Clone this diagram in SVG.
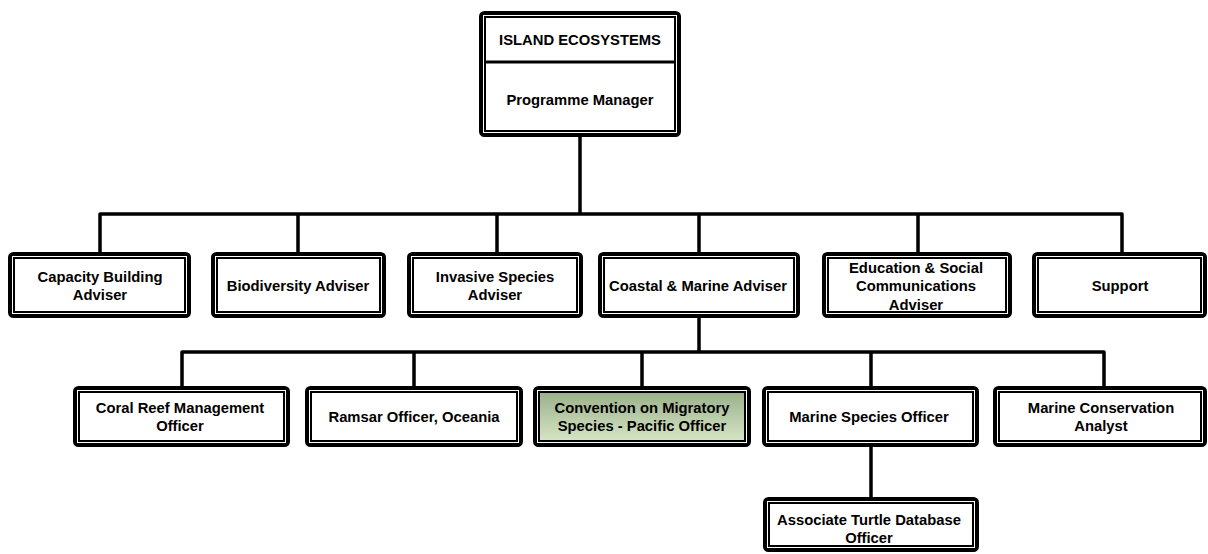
<svg xmlns="http://www.w3.org/2000/svg" width="1208" height="554" viewBox="0 0 1208 554">
<defs>
<linearGradient id="gcms" x1="0" y1="0" x2="0" y2="1">
<stop offset="0" stop-color="#98ad88"/>
<stop offset="1" stop-color="#d8e8c8"/>
</linearGradient>
</defs>
<style>
.fl{fill:#fff;stroke:none}
.bx{fill:none;stroke:#000;stroke-width:7;stroke-linejoin:round}
.in{fill:none;stroke:#fff;stroke-width:1}
.t{font-family:"Liberation Sans",Arial,sans-serif;font-weight:bold;font-size:14.8px;fill:#000;text-anchor:middle}
.c{fill:none;stroke:#000;stroke-width:3.5;stroke-linejoin:round}
</style>
<rect width="1208" height="554" fill="#fff"/>
<g id="connectors">
<path class="c" d="M580 137V214"/>
<path class="c" d="M100 252V214H1122V252"/>
<path class="c" d="M298 214V252M497 214V252M699 214V252M918 214V252"/>
<path class="c" d="M699 318V352"/>
<path class="c" d="M182 386V352H1104V386"/>
<path class="c" d="M414 352V386M642 352V386M871 352V386"/>
<path class="c" d="M871 447V497"/>
</g>
<g id="programme-manager">
<rect class="fl" x="482.5" y="14.5" width="195" height="119"/>
<text class="t" x="580" y="45">ISLAND ECOSYSTEMS</text>
<line x1="483" y1="62" x2="677" y2="62" stroke="#000" stroke-width="3"/>
<text class="t" x="580" y="105">Programme Manager</text>
<rect class="bx" x="482.5" y="14.5" width="195" height="119" rx="2"/>
<rect class="in" x="483.5" y="15.5" width="193" height="117"/>
</g>
<g id="capacity-building">
<rect class="fl" x="11.5" y="255.5" width="176" height="59"/>
<text class="t" x="100" y="282">Capacity Building</text>
<text class="t" x="100" y="300">Adviser</text>
<rect class="bx" x="11.5" y="255.5" width="176" height="59" rx="2"/>
<rect class="in" x="12.5" y="256.5" width="174" height="57"/>
</g>
<g id="biodiversity">
<rect class="fl" x="214.5" y="255.5" width="168" height="59"/>
<text class="t" x="298" y="291">Biodiversity Adviser</text>
<rect class="bx" x="214.5" y="255.5" width="168" height="59" rx="2"/>
<rect class="in" x="215.5" y="256.5" width="166" height="57"/>
</g>
<g id="invasive-species">
<rect class="fl" x="410.5" y="255.5" width="169" height="59"/>
<text class="t" x="495" y="282">Invasive Species</text>
<text class="t" x="495" y="300">Adviser</text>
<rect class="bx" x="410.5" y="255.5" width="169" height="59" rx="2"/>
<rect class="in" x="411.5" y="256.5" width="167" height="57"/>
</g>
<g id="coastal-marine">
<rect class="fl" x="601.5" y="255.5" width="195" height="59"/>
<text class="t" x="698" y="291">Coastal &amp; Marine Adviser</text>
<rect class="bx" x="601.5" y="255.5" width="195" height="59" rx="2"/>
<rect class="in" x="602.5" y="256.5" width="193" height="57"/>
</g>
<g id="education">
<rect class="fl" x="825.5" y="255.5" width="183" height="59"/>
<text class="t" x="916" y="273">Education &amp; Social</text>
<text class="t" x="916" y="291">Communications</text>
<text class="t" x="916" y="310">Adviser</text>
<rect class="bx" x="825.5" y="255.5" width="183" height="59" rx="2"/>
<rect class="in" x="826.5" y="256.5" width="181" height="57"/>
</g>
<g id="support">
<rect class="fl" x="1035.5" y="255.5" width="168" height="59"/>
<text class="t" x="1120" y="291">Support</text>
<rect class="bx" x="1035.5" y="255.5" width="168" height="59" rx="2"/>
<rect class="in" x="1036.5" y="256.5" width="166" height="57"/>
</g>
<g id="coral-reef">
<rect class="fl" x="76.5" y="389.5" width="210" height="54"/>
<text class="t" x="180" y="413">Coral Reef Management</text>
<text class="t" x="180" y="431">Officer</text>
<rect class="bx" x="76.5" y="389.5" width="210" height="54" rx="2"/>
<rect class="in" x="77.5" y="390.5" width="208" height="52"/>
</g>
<g id="ramsar">
<rect class="fl" x="308.5" y="389.5" width="211" height="54"/>
<text class="t" x="414" y="422">Ramsar Officer, Oceania</text>
<rect class="bx" x="308.5" y="389.5" width="211" height="54" rx="2"/>
<rect class="in" x="309.5" y="390.5" width="209" height="52"/>
</g>
<g id="cms">
<rect x="536.5" y="389.5" width="211" height="54" fill="url(#gcms)"/>
<text class="t" x="642" y="413">Convention on Migratory</text>
<text class="t" x="642" y="431">Species - Pacific Officer</text>
<rect class="bx" x="536.5" y="389.5" width="211" height="54" rx="2"/>
<rect class="in" x="537.5" y="390.5" width="209" height="52"/>
</g>
<g id="marine-species">
<rect class="fl" x="765.5" y="389.5" width="210" height="54"/>
<text class="t" x="869" y="422">Marine Species Officer</text>
<rect class="bx" x="765.5" y="389.5" width="210" height="54" rx="2"/>
<rect class="in" x="766.5" y="390.5" width="208" height="52"/>
</g>
<g id="marine-conservation">
<rect class="fl" x="996.5" y="389.5" width="207" height="54"/>
<text class="t" x="1101" y="413">Marine Conservation</text>
<text class="t" x="1101" y="431">Analyst</text>
<rect class="bx" x="996.5" y="389.5" width="207" height="54" rx="2"/>
<rect class="in" x="997.5" y="390.5" width="205" height="52"/>
</g>
<g id="turtle-database">
<rect class="fl" x="766.5" y="500.5" width="209" height="48"/>
<text class="t" x="869" y="525">Associate Turtle Database</text>
<text class="t" x="869" y="543">Officer</text>
<rect class="bx" x="766.5" y="500.5" width="209" height="48" rx="2"/>
<rect class="in" x="767.5" y="501.5" width="207" height="46"/>
</g>
</svg>
